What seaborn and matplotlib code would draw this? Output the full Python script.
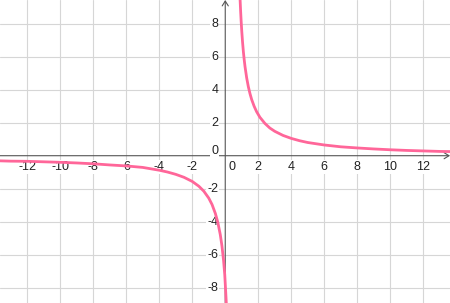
import matplotlib
matplotlib.use("Agg")
import matplotlib.pyplot as plt
import seaborn as sns
import pandas as pd

# positive branch
pos_x = [0.90, 0.93, 0.96, 1.00, 1.05, 1.10, 1.15, 1.20, 1.30, 1.40, 1.50, 1.60, 1.75,
         1.90, 2.10, 2.40, 2.70, 3.00, 3.50, 4.00, 4.50, 5.00, 6.00, 7.00, 8.00, 9.00,
         10.0, 11.0, 12.0, 13.0, 13.7]
pos_y = [9.46, 8.80, 8.22, 7.56, 6.87, 6.29, 5.81, 5.39, 4.71, 4.18, 3.76, 3.41, 3.00,
         2.67, 2.33, 1.96, 1.68, 1.48, 1.23, 1.05, 0.91, 0.80, 0.65, 0.54, 0.47, 0.41,
         0.36, 0.32, 0.29, 0.26, 0.25]
# negative branch
neg_x = [-13.7, -13.0, -12.0, -11.0, -10.0, -9.0, -8.0, -7.0, -6.0, -5.0, -4.0, -3.5,
         -3.0, -2.5, -2.0, -1.6, -1.3, -1.0, -0.8, -0.6, -0.45, -0.3, -0.2, -0.1,
         -0.03, 0.03, 0.07]
neg_y = [-0.31, -0.33, -0.34, -0.37, -0.40, -0.44, -0.49, -0.56, -0.62, -0.71, -0.88, -0.99,
         -1.13, -1.31, -1.56, -1.85, -2.15, -2.57, -2.96, -3.50, -4.04, -4.79, -5.47, -6.37,
         -7.21, -8.30, -9.05]

x_ticks = [-12, -10, -8, -6, -4, -2, 2, 4, 6, 8, 10, 12]
y_ticks = [-8, -6, -4, -2, 2, 4, 6, 8]

XMIN, XMAX = -13.65, 13.62
YMIN, YMAX = -8.93, 9.44

sns.set_style("white")
plt.rcParams['font.family'] = ['Liberation Sans', 'DejaVu Sans']

fig = plt.figure(figsize=(4.5, 3.03), dpi=100)
ax = fig.add_axes([0, 0, 1, 1])
ax.set_xlim(XMIN, XMAX)
ax.set_ylim(YMIN, YMAX)
for s in ax.spines.values():
    s.set_visible(False)
ax.set_xticks([])
ax.set_yticks([])

grid_c = '#d6d6d6'
for v in x_ticks:
    ax.axvline(v, color=grid_c, lw=0.8, zorder=0)
for v in y_ticks:
    ax.axhline(v, color=grid_c, lw=0.8, zorder=0)

axis_c = '#555555'
ax.annotate('', xy=(XMAX, 0), xytext=(XMIN, 0),
            arrowprops=dict(arrowstyle='->,head_length=0.35,head_width=0.22', color=axis_c, lw=0.8,
                            shrinkA=0, shrinkB=0), zorder=2)
ax.annotate('', xy=(0, YMAX), xytext=(0, YMIN),
            arrowprops=dict(arrowstyle='->,head_length=0.35,head_width=0.22', color=axis_c, lw=0.8,
                            shrinkA=0, shrinkB=0), zorder=2)

bbox = dict(facecolor='white', edgecolor='none', pad=0.6)
for v in x_ticks:
    ax.annotate(str(v).replace('-', '-'), xy=(v, 0), xytext=(0, -11.5), textcoords='offset pixels',
                ha='center', va='center', fontsize=9, color='#222222', bbox=bbox, zorder=3)
ax.annotate('0', xy=(0, 0), xytext=(6.5, -11), textcoords='offset pixels',
            ha='center', va='center', fontsize=9, color='#222222', bbox=bbox, zorder=3)
for v in y_ticks:
    ax.annotate(str(v), xy=(0, v), xytext=(-7, 0), textcoords='offset pixels',
                ha='right', va='center', fontsize=9, color='#222222', bbox=bbox, zorder=3)
ax.annotate('0', xy=(0, 0), xytext=(-7, 5), textcoords='offset pixels',
            ha='right', va='center', fontsize=9, color='#222222', bbox=bbox, zorder=3)

curve_c = '#ff6699'
sns.lineplot(x=pos_x, y=pos_y, ax=ax, color=curve_c, lw=2.0, sort=False, estimator=None, zorder=4)
sns.lineplot(x=neg_x, y=neg_y, ax=ax, color=curve_c, lw=2.0, sort=False, estimator=None, zorder=4)
ax.set_xlim(XMIN, XMAX)
ax.set_ylim(YMIN, YMAX)

fig.savefig('out.png', dpi=100)
